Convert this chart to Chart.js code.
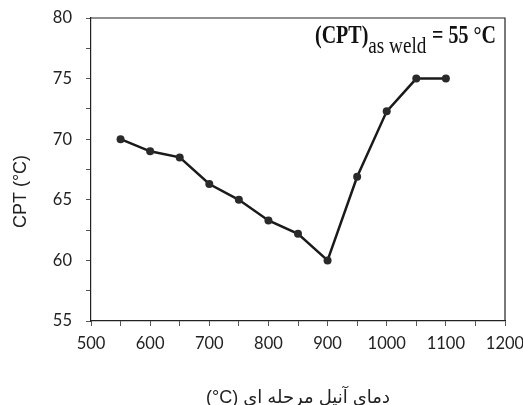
<!DOCTYPE html>
<html>
<head>
<meta charset="utf-8">
<script src="https://cdn.jsdelivr.net/npm/chart.js@4/dist/chart.umd.min.js"></script>
<style>
    html, body { margin: 0; padding: 0; background: #fff; }
    #wrap { width: 523px; height: 405px; }
</style>
</head>
<body>
<div id="wrap"><canvas id="chart" width="523" height="405"></canvas></div>
<script>
// interpass annealing temperature (°C) and measured CPT (°C)
const temps = [550, 600, 650, 700, 750, 800, 850, 900, 950, 1000, 1050, 1100];
const cptValues = [70, 69, 68.5, 66.3, 65, 63.3, 62.2, 60, 66.9, 72.3, 75, 75];

const xLabels = [500, 600, 700, 800, 900, 1000, 1100, 1200];
const yLabels = [55, 60, 65, 70, 75, 80];

const xTitle = '(°C) دمای آنیل مرحله ای';
const yTitle = 'CPT (°C)';

const tickFont = { family: 'Lato, "Liberation Sans", sans-serif', size: 16.5 };

// frame, y title and the as-weld note
const extrasPlugin = {
    id: 'extras',
    afterDraw(chart) {
        const ctx = chart.ctx;
        const a = chart.chartArea;
        ctx.save();
        ctx.strokeStyle = '#222';
        ctx.lineWidth = 1.2;
        ctx.beginPath();
        ctx.moveTo(a.left, a.top);
        ctx.lineTo(a.right, a.top);
        ctx.lineTo(a.right, a.bottom);
        ctx.stroke();

        // y axis title
        ctx.save();
        ctx.translate(21, (a.top + a.bottom) / 2 + 22);
        ctx.rotate(-Math.PI / 2);
        ctx.fillStyle = '#222';
        ctx.font = '18px "Liberation Sans", sans-serif';
        ctx.textAlign = 'center';
        ctx.textBaseline = 'middle';
        ctx.fillText(yTitle, 0, 0);
        ctx.restore();

        // (CPT)as weld = 55 °C
        ctx.save();
        ctx.fillStyle = '#111';
        ctx.translate(a.left + 224, a.top + 25);
        ctx.scale(0.8, 1);
        ctx.textBaseline = 'alphabetic';
        ctx.textAlign = 'left';
        ctx.font = 'bold 25px "Liberation Serif", serif';
        ctx.fillText('(CPT)', 0, 0);
        let x = ctx.measureText('(CPT)').width;
        ctx.font = '24px "Liberation Serif", serif';
        ctx.fillText('as weld', x, 10);
        x += ctx.measureText('as weld').width + 7;
        ctx.font = 'bold 25px "Liberation Serif", serif';
        ctx.fillText('= 55 °C', x, 0);
        ctx.restore();

        ctx.restore();
    }
};

new Chart(document.getElementById('chart').getContext('2d'), {
    type: 'line',
    data: {
        datasets: [{
            data: temps.map((t, i) => ({ x: t, y: cptValues[i] })),
            borderColor: '#1a1a1a',
            borderWidth: 2.5,
            pointRadius: 4,
            pointBackgroundColor: '#2a2a2a',
            pointBorderWidth: 0,
            tension: 0,
            fill: false
        }]
    },
    options: {
        responsive: false,
        animation: false,
        devicePixelRatio: 1,
        layout: { padding: { top: 18, right: 18, left: 0, bottom: 0 } },
        plugins: {
            legend: { display: false },
            tooltip: { enabled: false }
        },
        scales: {
            x: {
                type: 'linear',
                min: 500,
                max: 1200,
                grid: { drawOnChartArea: false, drawTicks: true, tickLength: 5, color: '#555', lineWidth: 1 },
                border: { display: true, color: '#222', width: 1.2 },
                ticks: {
                    stepSize: 50,
                    autoSkip: false,
                    maxRotation: 0,
                    padding: 8,
                    color: '#222',
                    font: tickFont,
                    callback: v => xLabels.includes(v) ? String(v) : ''
                },
                title: {
                    display: true,
                    text: xTitle,
                    color: '#222',
                    font: { family: '"Liberation Sans", "DejaVu Sans", sans-serif', size: 18, lineHeight: 1.0 },
                    padding: { top: 0, bottom: -2 }
                },
                afterFit(scale) {
                    scale.height = 84;
                    scale.paddingLeft = 0;
                    scale.paddingRight = 0;
                }
            },
            y: {
                min: 55,
                max: 80,
                grid: { drawOnChartArea: false, drawTicks: true, tickLength: 5, color: '#555', lineWidth: 1 },
                border: { display: true, color: '#222', width: 1.2 },
                ticks: {
                    stepSize: 2.5,
                    autoSkip: false,
                    padding: 14,
                    color: '#222',
                    font: tickFont,
                    callback: v => yLabels.includes(v) ? String(v) : ''
                },
                afterFit(scale) {
                    scale.width = 91;
                    scale.paddingTop = 0;
                    scale.paddingBottom = 0;
                }
            }
        }
    },
    plugins: [extrasPlugin]
});
</script>
</body>
</html>
